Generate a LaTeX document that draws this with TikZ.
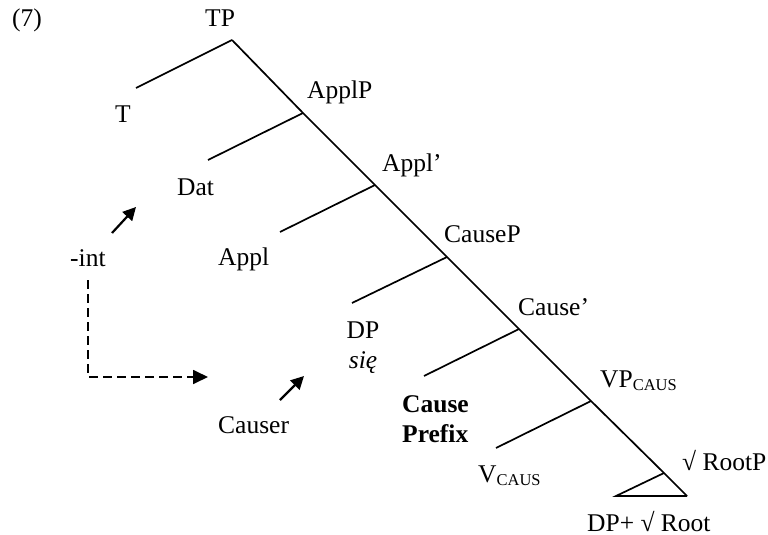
\documentclass[tikz,border=0pt]{standalone}
\usepackage{fontspec}
\setmainfont{Liberation Serif}
\usetikzlibrary{arrows.meta}
\newcommand{\caussub}{\raisebox{-3pt}{\fontsize{16.5}{16.5}\selectfont CAUS}}
\begin{document}
\begin{tikzpicture}[x=1pt,y=-1pt,
  branch/.style={line width=1.7pt},
  lbl/.style={font=\fontsize{25.5}{28}\selectfont, inner sep=0pt, anchor=base west},
  lblc/.style={font=\fontsize{25.5}{28}\selectfont, inner sep=0pt, anchor=base},
  ptr/.style={line width=2.2pt,-{Triangle[length=13pt,width=13pt]}},
  dptr/.style={line width=1.8pt,dash pattern=on 9pt off 5pt,-{Triangle[length=15pt,width=14pt]}}]
\useasboundingbox (0,0) rectangle (768,535);
% junctions
\coordinate (jTP) at (232,40);
\coordinate (jApplP) at (303,113);
\coordinate (jApplb) at (375,185);
\coordinate (jCauseP) at (447,257);
\coordinate (jCauseb) at (519,329);
\coordinate (jVP) at (591,401);
\coordinate (jRoot) at (664,473);
\coordinate (jEnd) at (687,496);
% left branch ends
\coordinate (eT) at (136,88);
\coordinate (eDat) at (208,160);
\coordinate (eAppl) at (280,232);
\coordinate (eDP) at (352,303);
\coordinate (eCause) at (424,376);
\coordinate (eV) at (496,448);
\coordinate (eTri) at (616,496);
% spine and branches
\draw[branch] (jTP) -- (jApplP) -- (jApplb) -- (jCauseP) -- (jCauseb) -- (jVP) -- (jRoot) -- (jEnd);
\draw[branch] (jTP) -- (eT);
\draw[branch] (jApplP) -- (eDat);
\draw[branch] (jApplb) -- (eAppl);
\draw[branch] (jCauseP) -- (eDP);
\draw[branch] (jCauseb) -- (eCause);
\draw[branch] (jVP) -- (eV);
\draw[branch] (jRoot) -- (eTri) -- (jEnd);
% labels
\node[lbl] (ex) at (12,27) {(7)};
\node[lbl] (TP) at (205,27) {TP};
\node[lbl] (T) at (115,122) {T};
\node[lbl] (ApplP) at (307,98) {ApplP};
\node[lbl] (Dat) at (177,195) {Dat};
\node[lbl] (Applb) at (382,171) {Appl’};
\node[lbl] (Appl) at (218,265) {Appl};
\node[lbl] (int) at (70,266) {-int};
\node[lbl] (CauseP) at (444,242) {CauseP};
\node[lblc] (DP) at (363,338) {DP};
\node[lblc] (sie) at (363,368) {\itshape się};
\node[lbl] (Causeb) at (518,315) {Cause’};
\node[lbl] (VP) at (600,387) {VP\caussub};
\node[lbl] (Causer) at (218,433) {Causer};
\node[lbl] (Cause) at (402,412) {\bfseries Cause};
\node[lbl] (Prefix) at (402,442) {\bfseries Prefix};
\node[lbl] (V) at (478,482) {V\caussub};
\node[lbl] (RootP) at (682,470) {√ RootP};
\node[lbl] (Root) at (587,531) {DP+ √ Root};
% arrows
\coordinate (a1s) at (112,233);
\coordinate (a1e) at (136,207);
\draw[ptr] (a1s) -- (a1e);
\coordinate (a2s) at (280,400);
\coordinate (a2e) at (304,376);
\draw[ptr] (a2s) -- (a2e);
\coordinate (d0) at (88,280);
\coordinate (d1) at (88,377);
\coordinate (d2) at (208,377);
\draw[dptr] (d0) -- (d1) -- (d2);
\end{tikzpicture}
\end{document}
